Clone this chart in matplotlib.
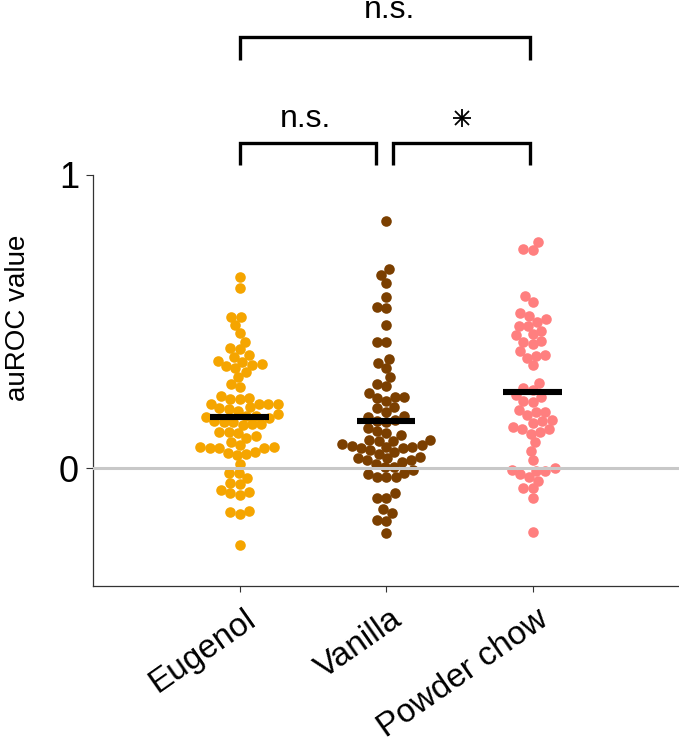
import numpy as np
import matplotlib
matplotlib.use("Agg")
import matplotlib.pyplot as plt
from matplotlib.transforms import ScaledTranslation

plt.rcParams['font.family'] = ['Liberation Sans', 'DejaVu Sans']

# ---------------- data ----------------
categories = ['Eugenol', 'Vanilla', 'Powder chow']

eugenol = [0.651, 0.614, 0.517, 0.515, 0.489, 0.460, 0.432, 0.409, 0.406, 0.386,
           0.378, 0.367, 0.363, 0.355, 0.352, 0.349, 0.341, 0.327, 0.310, 0.287,
           0.278, 0.241, 0.237, 0.236, 0.245, 0.221, 0.219, 0.218, 0.220, 0.205,
           0.208, 0.204, 0.196, 0.184, 0.170, 0.159, 0.161, 0.157, 0.151, 0.148,
           0.151, 0.178, 0.175, 0.180, 0.123, 0.119, 0.124, 0.110, 0.102, 0.091,
           0.072, 0.069, 0.072, 0.079, 0.069, 0.069, 0.045, 0.053, 0.050, 0.056,
           0.015, -0.017, -0.017, -0.034, -0.049, -0.055, -0.091, -0.074, -0.085,
           -0.080, -0.145, -0.156, -0.148, -0.262]

vanilla = [0.844, 0.680, 0.659, 0.631, 0.583, 0.546, 0.550, 0.489, 0.431, 0.431,
           0.372, 0.358, 0.341, 0.310, 0.286, 0.280, 0.244, 0.230, 0.239, 0.256,
           0.244, 0.208, 0.205, 0.192, 0.176, 0.178, 0.162, 0.165, 0.158, 0.136,
           0.127, 0.119, 0.114, 0.096, 0.096, 0.094, 0.094, 0.076, 0.079, 0.073,
           0.082, 0.073, 0.068, 0.062, 0.068, 0.057, 0.049, 0.040, 0.034, 0.028,
           0.028, 0.034, 0.022, 0.015, 0.003, 0.003, -0.029, -0.029, -0.029,
           -0.006, -0.015, -0.019, -0.085, -0.100, -0.100, -0.140, -0.153, -0.176,
           -0.178, -0.222]

powder_chow = [0.770, 0.748, 0.744, 0.589, 0.568, 0.528, 0.520, 0.508, 0.500, 0.486,
               0.486, 0.468, 0.457, 0.454, 0.432, 0.434, 0.423, 0.400, 0.383, 0.377,
               0.386, 0.352, 0.290, 0.273, 0.267, 0.250, 0.244, 0.230, 0.227, 0.193,
               0.193, 0.182, 0.199, 0.164, 0.156, 0.162, 0.133, 0.133, 0.142, 0.117,
               0.125, 0.089, 0.060, 0.028, -0.006, -0.008, -0.020, 0.000, -0.008,
               -0.031, -0.042, -0.068, -0.068, -0.102, -0.218]

group_values = [eugenol, vanilla, powder_chow]
group_means = [0.176, 0.162, 0.261]
colors = ['#F5A500', '#7B3F00', '#FF7F7F']
y_ticks = [0, 1]
y_tick_labels = ['0', '1']

# comparisons: (left group, right group, label)
comparisons = [(1, 2, 'n.s.'), (2, 3, '*'), (1, 3, 'n.s.')]

# ---------------- figure ----------------
W, H = 679, 742
fig = plt.figure(figsize=(W / 100, H / 100), dpi=100)
ax_left, ax_right, ax_top, ax_bottom = 93.25, 679.0, 175.0, 585.7
ax = fig.add_axes([ax_left / W, 1 - ax_bottom / H, (ax_right - ax_left) / W,
                   (ax_bottom - ax_top) / H])
ax.set_xlim(0, 4)
ax.set_ylim(-0.4, 1.0)


def swarm_x(ax, xc, vals, d):
    """Simple beeswarm placement in pixel space; returns data x positions."""
    vals = np.asarray(vals, dtype=float)
    pts = ax.transData.transform(np.column_stack([np.full(len(vals), xc), vals]))
    order = np.argsort(pts[:, 1], kind='stable')
    px_list, py_list = [], []
    out = np.zeros(len(vals))
    for i in order:
        x0, y0 = pts[i]
        cands = [x0]
        for px, py in zip(px_list, py_list):
            dy = abs(py - y0)
            if dy < d:
                dx = np.sqrt(d * d - dy * dy)
                cands.extend([px - dx, px + dx])
        cands = sorted(cands, key=lambda c: abs(c - x0))
        chosen = x0
        for c in cands:
            if all((c - px) ** 2 + (y0 - py) ** 2 >= d * d - 1e-6
                   for px, py in zip(px_list, py_list)):
                chosen = c
                break
        px_list.append(chosen)
        py_list.append(y0)
        out[i] = chosen
    xs = ax.transData.inverted().transform(np.column_stack([out, pts[:, 1]]))[:, 0]
    return xs


for gi, (vals, col) in enumerate(zip(group_values, colors)):
    xc = gi + 1
    xs = swarm_x(ax, xc, vals, d=9.5)
    ax.scatter(xs, vals, s=58, color=col, linewidths=0, zorder=2)

ax.axhline(0, color='#c8c8c8', lw=2.2, zorder=3)

for gi, m in enumerate(group_means):
    xc = gi + 1
    ax.hlines(m, xc - 0.2, xc + 0.2, color='black', lw=4.4, zorder=4,
              capstyle='butt')

# spines / ticks
for s in ['top', 'right']:
    ax.spines[s].set_visible(False)
for s in ['left', 'bottom']:
    ax.spines[s].set_color('#333333')
    ax.spines[s].set_linewidth(0.9)

ax.set_yticks(y_ticks)
ax.set_yticklabels(y_tick_labels)
ax.tick_params(axis='y', labelsize=26, length=4.8, width=0.8, pad=5.5,
               color='#333333')
ax.set_xticks([1, 2, 3])
labels = ax.set_xticklabels(categories, rotation=35, ha='right', va='top',
                            rotation_mode='anchor', fontsize=24)
ax.tick_params(axis='x', length=4.5, width=0.8, pad=3, color='#333333')
shift = ScaledTranslation(0.035, -0.075, fig.dpi_scale_trans)
for lab in labels:
    lab.set_transform(lab.get_transform() + shift)

fig.text(18 / W, 1 - 318 / H, 'auROC value', rotation=90, ha='center',
         va='center', fontsize=20)

# significance brackets
bracket_lw = 2.4
def bracket(x0, x1, y_top, y_leg):
    ax.plot([x0, x0, x1, x1], [y_leg, y_top, y_top, y_leg], color='black',
            lw=bracket_lw, clip_on=False, solid_joinstyle='miter',
            solid_capstyle='butt', zorder=5)

bracket(1.0, 1.93, 1.109, 1.034)
bracket(2.05, 2.98, 1.109, 1.034)
bracket(1.0, 2.98, 1.470, 1.392)

ax.text(1.45, 1.165, comparisons[0][2], ha='center', va='baseline', fontsize=23,
        clip_on=False)
ax.text(2.02, 1.534, comparisons[2][2], ha='center', va='baseline', fontsize=23,
        clip_on=False)
# asterisk drawn as an eight-armed star
ax.plot([2.52], [1.195], marker='+', ms=13, mew=1.3, color='black', clip_on=False)
ax.plot([2.52], [1.195], marker='x', ms=9.5, mew=1.3, color='black', clip_on=False)

fig.savefig('out.png', dpi=100)
